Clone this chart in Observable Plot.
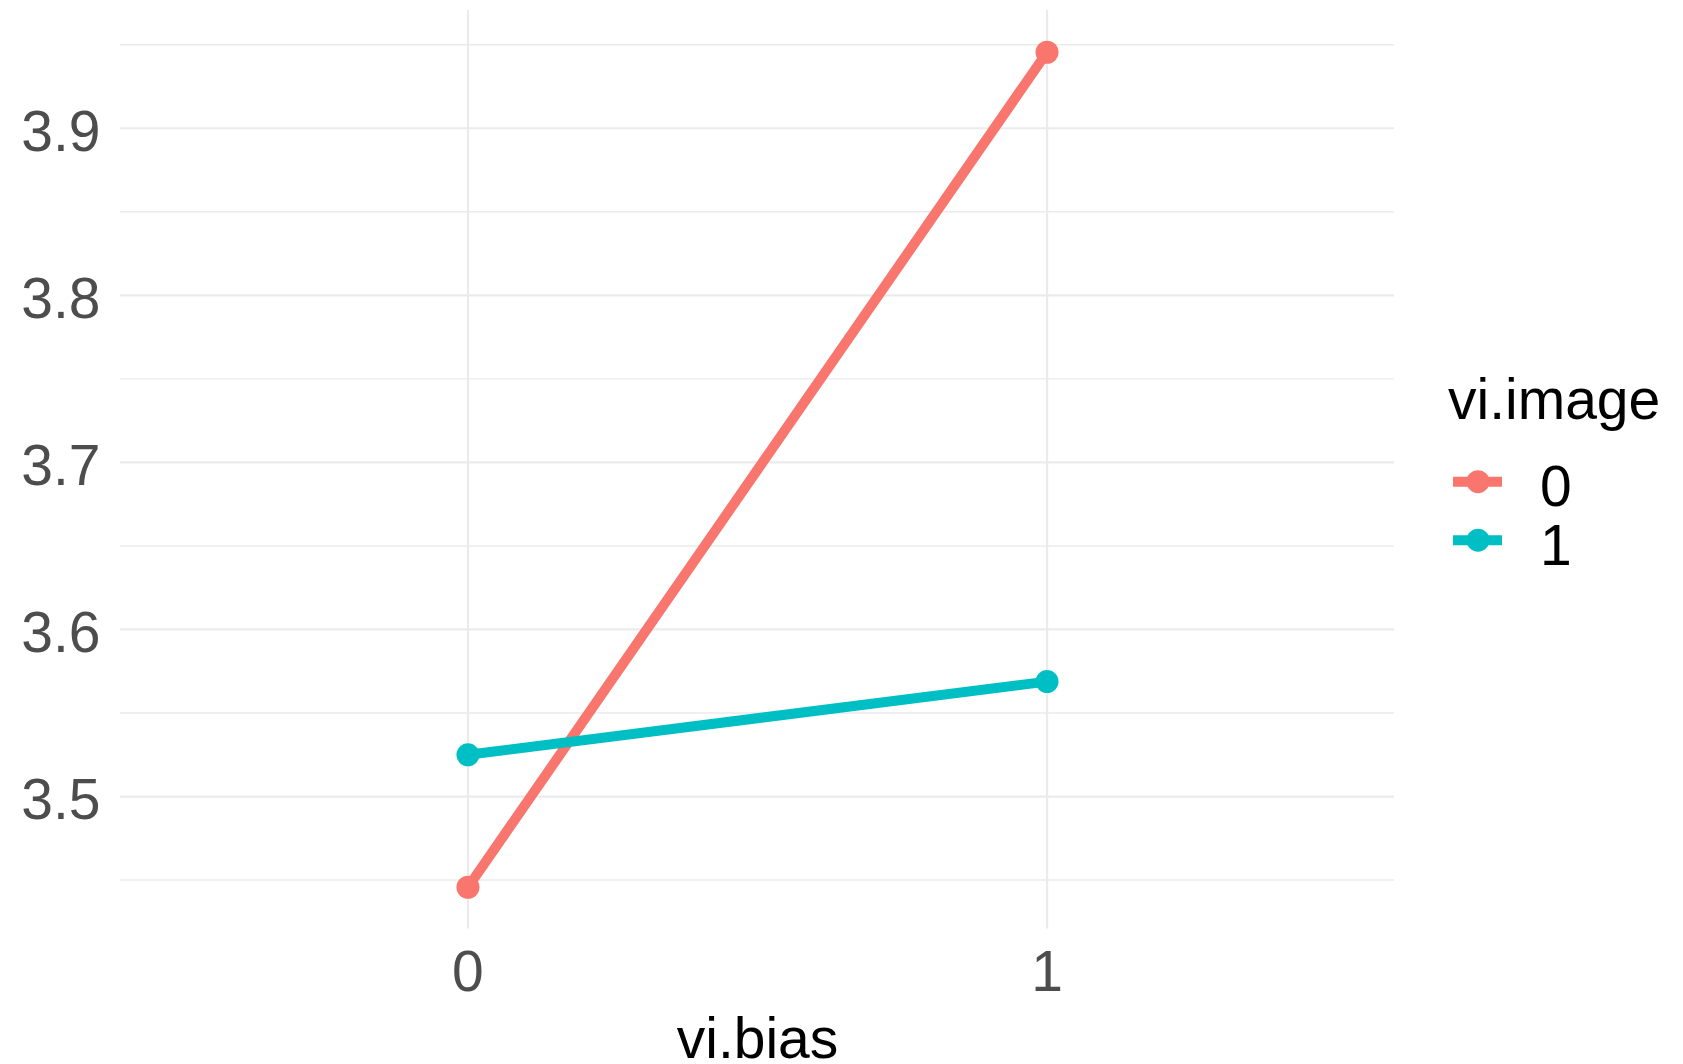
<!DOCTYPE html>
<html>
<head>
<meta charset="utf-8">
<script src="https://cdn.jsdelivr.net/npm/d3@7"></script>
<script src="https://cdn.jsdelivr.net/npm/@observablehq/plot@0.6"></script>
<style>
  body { margin: 0; background: #ffffff; font-family: "Liberation Sans", Arial, sans-serif; }
  #wrap { position: relative; width: 1683px; height: 1064px; overflow: hidden; }
  #legend { position: absolute; left: 1448px; top: 0; }
</style>
</head>
<body>
<div id="wrap"></div>
<script>
// Interaction of vi.bias and vi.image: group means
const viBias = [0, 1];
const imageLevels = ["0", "1"];
const meanImage0 = [3.4457, 3.9455];
const meanImage1 = [3.525, 3.5688];
const palette = ["#F8766D", "#00BFC4"];
const yMajorTicks = [3.5, 3.6, 3.7, 3.8, 3.9];
const yMinorBreaks = [3.45, 3.55, 3.65, 3.75, 3.85, 3.95];

const rows = [];
viBias.forEach((b, i) => {
  rows.push({bias: b, image: imageLevels[0], value: meanImage0[i]});
  rows.push({bias: b, image: imageLevels[1], value: meanImage1[i]});
});

// y limits: data range expanded by 5% on each side
const [lo, hi] = d3.extent(rows, d => d.value);
const pad = (hi - lo) * 0.05;

const grid = "#EBEBEB";
const lineWidth = 10;
const dotRadius = 11.5;

const chart = Plot.plot({
  width: 1683,
  height: 1064,
  marginLeft: 120,
  marginRight: 289,
  marginTop: 10,
  marginBottom: 135.5,
  style: {fontFamily: "'Liberation Sans', Arial, sans-serif", background: "#ffffff"},
  x: {domain: [-0.6, 1.6]},
  y: {domain: [lo - pad, hi + pad]},
  color: {domain: imageLevels, range: palette},
  marks: [
    Plot.gridY(yMinorBreaks, {stroke: grid, strokeOpacity: 1, strokeWidth: 1.4}),
    Plot.gridY(yMajorTicks, {stroke: grid, strokeOpacity: 1, strokeWidth: 2.2}),
    Plot.gridX(viBias, {stroke: grid, strokeOpacity: 1, strokeWidth: 2.2}),
    Plot.axisY(yMajorTicks, {tickSize: 0, tickPadding: 20, fontSize: 57, fill: "#4D4D4D",
      label: null, tickFormat: d => d.toFixed(1), dy: 4}),
    Plot.axisX(viBias, {tickSize: 0, tickPadding: 21.5, fontSize: 57, fill: "#4D4D4D",
      label: null, tickFormat: d => String(d)}),
    Plot.line(rows, {x: "bias", y: "value", stroke: "image", z: "image", strokeWidth: lineWidth}),
    Plot.dot(rows, {x: "bias", y: "value", fill: "image", r: dotRadius}),
    Plot.text(["vi.bias"], {text: d => d, frameAnchor: "bottom", lineAnchor: "bottom",
      dy: 128.5, fontSize: 57, fill: "#000000"})
  ]
});

const wrap = document.getElementById("wrap");
wrap.appendChild(chart);

// Legend: line + point keys coloured by the plot's colour scale
const color = chart.scale("color");
const legend = d3.select(wrap).append("svg")
  .attr("id", "legend")
  .attr("width", 235)
  .attr("height", 1064)
  .style("font-family", "'Liberation Sans', Arial, sans-serif");

legend.append("text")
  .attr("x", 0).attr("y", 419)
  .attr("font-size", 57).attr("fill", "#000000")
  .text("vi.image");

color.domain.forEach((level, i) => {
  const cy = 481.7 + i * 58.5;
  const c = color.range[i];
  const g = legend.append("g");
  g.append("line")
    .attr("x1", 5).attr("x2", 54)
    .attr("y1", cy).attr("y2", cy)
    .attr("stroke", c).attr("stroke-width", lineWidth);
  g.append("circle")
    .attr("cx", 30).attr("cy", cy).attr("r", dotRadius)
    .attr("fill", c);
  g.append("text")
    .attr("x", 92).attr("y", cy + 24.5)
    .attr("font-size", 57).attr("fill", "#000000")
    .text(level);
});
</script>
</body>
</html>
